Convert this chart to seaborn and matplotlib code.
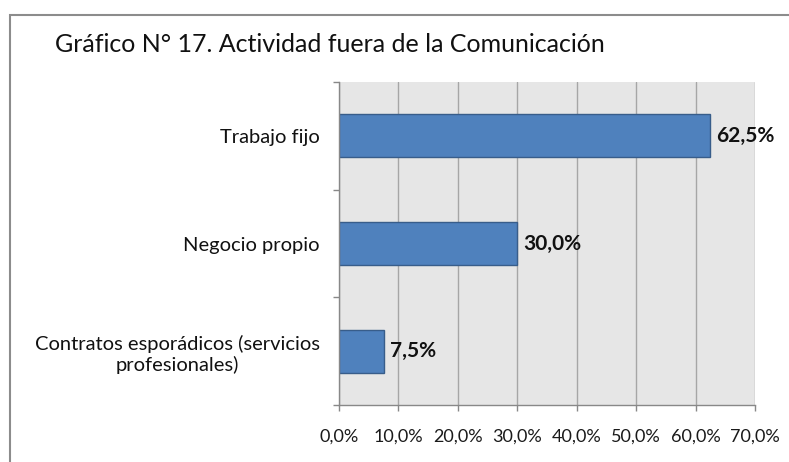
import pandas as pd
import matplotlib.pyplot as plt
import seaborn as sns
from matplotlib.patches import Rectangle

sns.set_theme(style="white")
plt.rcParams['font.family'] = ['Lato', 'DejaVu Sans']

categorias = ['Trabajo fijo', 'Negocio propio', 'Contratos esporádicos (servicios\nprofesionales)']
valores = [62.5, 30.0, 7.5]
xticks = [0, 10, 20, 30, 40, 50, 60, 70]
titulo = 'Gráfico N° 17. Actividad fuera de la Comunicación'

df = pd.DataFrame({'cat': categorias, 'val': valores})

fig = plt.figure(figsize=(7.89, 4.62), dpi=100)
ax = fig.add_axes([339 / 789, 1 - 405 / 462, 416 / 789, 323 / 462])

sns.barplot(data=df, y='cat', x='val', orient='h', color='#4F81BD', saturation=1,
            edgecolor='#385D8A', linewidth=1, width=0.4, ax=ax)

ax.set_facecolor('#E6E6E6')
ax.set_xlim(0, 70)
ax.set_ylim(2.5, -0.5)
ax.set_xticks(xticks)
ax.set_xticklabels([f'{t:.1f}%'.replace('.', ',') for t in xticks], fontsize=13, color='#1a1a1a')
ax.grid(axis='x', color='#A6A6A6', linewidth=1)
ax.set_axisbelow(True)
ax.set_xlabel('')
ax.set_ylabel('')

# etiquetas de categorias sin tick, ticks en los limites de cada banda
ax.set_yticks(range(len(categorias)))
ax.set_yticklabels(categorias, fontsize=14.5, color='#111111', multialignment='center',
                   linespacing=1.25)
ax.set_yticks([-0.5, 0.5, 1.5, 2.5], minor=True)
ax.tick_params(axis='y', which='major', length=0, pad=14)
ax.tick_params(axis='y', which='minor', length=4, color='#888888', width=1, direction='out', left=True)
ax.tick_params(axis='x', length=4, color='#888888', width=1, direction='out', bottom=True, pad=13)

for s in ['top', 'right']:
    ax.spines[s].set_visible(False)
for s in ['left', 'bottom']:
    ax.spines[s].set_color('#888888')
    ax.spines[s].set_linewidth(1)

for i, v in enumerate(valores):
    ax.text(v + 1.0, i, f'{v:.1f}%'.replace('.', ','), va='center', ha='left',
            fontsize=15, fontweight='bold', color='#111111')

fig.text(605 / 789, 1 - 45 / 462, titulo, ha='right', va='center', fontsize=18, color='#111111')

# borde del area del grafico
fig.patches.append(Rectangle((10 / 789, -0.1), 1.2, 1 - 15 / 462 + 0.1, transform=fig.transFigure,
                             fill=False, edgecolor='#8C8C8C', linewidth=1.5))

fig.savefig('out.png', dpi=100)
